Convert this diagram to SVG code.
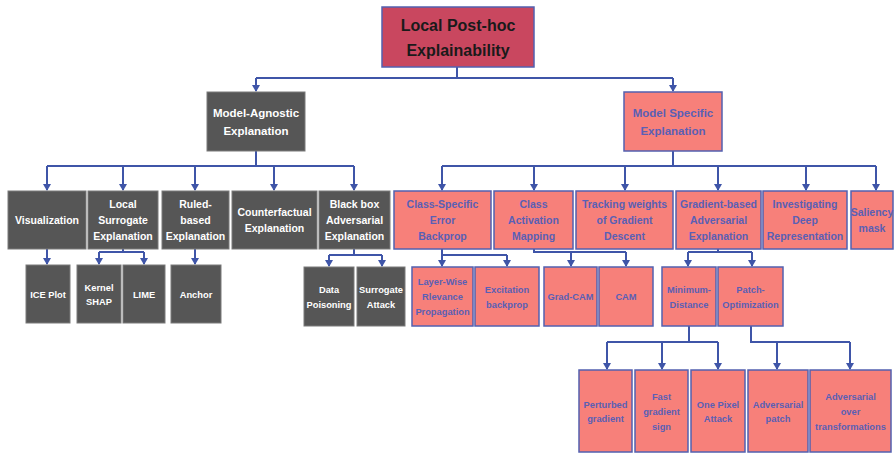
<svg xmlns="http://www.w3.org/2000/svg" width="894" height="453" viewBox="0 0 894 453">
<defs>
<style>
.g rect{fill:#565656;stroke:#7a7a7a;stroke-width:1}
.s rect{fill:#F7807A;stroke:#5360B0;stroke-width:1.5}
.r rect{fill:#C9475F;stroke:#5360B0;stroke-width:1.5}
text{font-family:"Liberation Sans",Arial,sans-serif;font-weight:bold;text-anchor:middle}
.g text{fill:#ffffff}
.s text{fill:#5a5fb5}
.r text{fill:#1a1a1a;font-size:16px}
.l2 text{font-size:10.5px}
.l3 text{font-size:9.3px}
.conn path{fill:none;stroke:#3F55A8;stroke-width:2}
</style>
<marker id="ah" markerUnits="userSpaceOnUse" markerWidth="8" markerHeight="8" viewBox="0 0 8 8" refX="4" refY="8" orient="auto-start-reverse">
<path d="M0,1 L8,1 L4,8 Z" fill="#3F55A8" transform="rotate(-90 4 4)"/>
</marker>
<marker id="a" markerUnits="userSpaceOnUse" markerWidth="8" markerHeight="8" viewBox="0 0 8 8" refX="4" refY="7">
<path d="M0,1 L8,1 L4,8 Z" fill="#3F55A8"/>
</marker>
</defs>
<rect width="894" height="453" fill="#ffffff"/>

<g class="conn">
<path d="M457,67 V78 M256,78 H673"/>
<path d="M256,78 V91" marker-end="url(#a)"/>
<path d="M673,78 V91" marker-end="url(#a)"/>
<path d="M256,151 V166 M47,166 H354"/>
<path d="M47,166 V190" marker-end="url(#a)"/>
<path d="M123,166 V190" marker-end="url(#a)"/>
<path d="M195,166 V190" marker-end="url(#a)"/>
<path d="M274,166 V190" marker-end="url(#a)"/>
<path d="M354,166 V190" marker-end="url(#a)"/>
<path d="M673,151 V166 M442,166 H876"/>
<path d="M442,166 V190" marker-end="url(#a)"/>
<path d="M534,166 V190" marker-end="url(#a)"/>
<path d="M625,166 V190" marker-end="url(#a)"/>
<path d="M718,166 V190" marker-end="url(#a)"/>
<path d="M806,166 V190" marker-end="url(#a)"/>
<path d="M876,166 V190" marker-end="url(#a)"/>
<path d="M47,249 V264" marker-end="url(#a)"/>
<path d="M123,249 V252 M99,252 H144"/>
<path d="M99,252 V264" marker-end="url(#a)"/>
<path d="M144,252 V264" marker-end="url(#a)"/>
<path d="M195,249 V264" marker-end="url(#a)"/>
<path d="M354,249 V255 M329,255 H382"/>
<path d="M329,255 V266" marker-end="url(#a)"/>
<path d="M382,255 V266" marker-end="url(#a)"/>
<path d="M442,249 V255 H507"/>
<path d="M442,255 V266" marker-end="url(#a)"/>
<path d="M507,255 V266" marker-end="url(#a)"/>
<path d="M534,249 V252 H626"/>
<path d="M571,252 V266" marker-end="url(#a)"/>
<path d="M626,252 V266" marker-end="url(#a)"/>
<path d="M718,249 V252 M688,252 H752"/>
<path d="M688,252 V266" marker-end="url(#a)"/>
<path d="M752,252 V266" marker-end="url(#a)"/>
<path d="M689,326 V342 M607,342 H718"/>
<path d="M607,342 V369" marker-end="url(#a)"/>
<path d="M662,342 V369" marker-end="url(#a)"/>
<path d="M718,342 V369" marker-end="url(#a)"/>
<path d="M751,326 V342 H850"/>
<path d="M777,342 V369" marker-end="url(#a)"/>
<path d="M850,342 V369" marker-end="url(#a)"/>
</g>

<g id="root" class="r">
<rect x="382" y="7" width="152" height="60"/>
<text x="458" y="31">Local Post-hoc</text>
<text x="458" y="56">Explainability</text>
</g>

<g id="model-agnostic" class="g">
<rect x="207" y="92" width="98" height="59"/>
<text x="256" y="117" font-size="11.5">Model-Agnostic</text>
<text x="256" y="135" font-size="11.5">Explanation</text>
</g>
<g id="model-specific" class="s">
<rect x="624" y="92" width="98" height="59"/>
<text x="673" y="117" font-size="11.5">Model Specific</text>
<text x="673" y="135" font-size="11.5">Explanation</text>
</g>

<g class="g l2">
<g id="visualization"><rect x="8" y="191" width="78" height="58"/>
<text x="47" y="224">Visualization</text></g>
<g id="local-surrogate"><rect x="88" y="191" width="70" height="58"/>
<text x="123" y="208">Local</text><text x="123" y="224">Surrogate</text><text x="123" y="240">Explanation</text></g>
<g id="ruled-based"><rect x="162" y="191" width="67" height="58"/>
<text x="195.5" y="208">Ruled-</text><text x="195.5" y="224">based</text><text x="195.5" y="240">Explanation</text></g>
<g id="counterfactual"><rect x="232" y="191" width="85" height="58"/>
<text x="274.5" y="216">Counterfactual</text><text x="274.5" y="232">Explanation</text></g>
<g id="black-box"><rect x="319" y="191" width="71" height="58"/>
<text x="354.5" y="208">Black box</text><text x="354.5" y="224">Adversarial</text><text x="354.5" y="240">Explanation</text></g>
</g>

<g class="s l2">
<g id="class-specific"><rect x="394" y="191" width="97" height="58"/>
<text x="442.5" y="208">Class-Specific</text><text x="442.5" y="224">Error</text><text x="442.5" y="240">Backprop</text></g>
<g id="cam-mapping"><rect x="494" y="191" width="79" height="58"/>
<text x="533.5" y="208">Class</text><text x="533.5" y="224">Activation</text><text x="533.5" y="240">Mapping</text></g>
<g id="tracking"><rect x="576" y="191" width="97" height="58"/>
<text x="624.5" y="208">Tracking weights</text><text x="624.5" y="224">of Gradient</text><text x="624.5" y="240">Descent</text></g>
<g id="gradient-based"><rect x="676" y="191" width="85" height="58"/>
<text x="718.5" y="208">Gradient-based</text><text x="718.5" y="224">Adversarial</text><text x="718.5" y="240">Explanation</text></g>
<g id="investigating"><rect x="763" y="191" width="84" height="58"/>
<text x="805" y="208">Investigating</text><text x="805" y="224">Deep</text><text x="805" y="240">Representation</text></g>
<g id="saliency"><rect x="851" y="191" width="42" height="58"/>
<text x="872" y="216">Saliency</text><text x="872" y="232">mask</text></g>
</g>

<g class="g l3">
<g id="ice-plot"><rect x="26" y="265" width="44" height="58"/>
<text x="48" y="298">ICE Plot</text></g>
<g id="kernel-shap"><rect x="77" y="265" width="44" height="58"/>
<text x="99" y="291">Kernel</text><text x="99" y="305">SHAP</text></g>
<g id="lime"><rect x="123" y="265" width="42" height="58"/>
<text x="144" y="298">LIME</text></g>
<g id="anchor"><rect x="171" y="265" width="50" height="58"/>
<text x="196" y="298">Anchor</text></g>
<g id="data-poisoning"><rect x="304" y="267" width="50" height="59"/>
<text x="329" y="293">Data</text><text x="329" y="308">Poisoning</text></g>
<g id="surrogate-attack"><rect x="357" y="267" width="48" height="59"/>
<text x="381" y="293">Surrogate</text><text x="381" y="308">Attack</text></g>
</g>

<g class="s l3">
<g id="lrp"><rect x="412" y="267" width="61" height="59"/>
<text x="442.5" y="285">Layer-Wise</text><text x="442.5" y="300">Rlevance</text><text x="442.5" y="315">Propagation</text></g>
<g id="excitation"><rect x="475" y="267" width="64" height="59"/>
<text x="507" y="293">Excitation</text><text x="507" y="308">backprop</text></g>
<g id="grad-cam"><rect x="544" y="267" width="53" height="59"/>
<text x="570.5" y="300">Grad-CAM</text></g>
<g id="cam"><rect x="599" y="267" width="54" height="59"/>
<text x="626" y="300">CAM</text></g>
<g id="minimum-distance"><rect x="662" y="267" width="54" height="59"/>
<text x="689" y="293">Minimum-</text><text x="689" y="308">Distance</text></g>
<g id="patch-optimization"><rect x="718" y="267" width="65" height="59"/>
<text x="750.5" y="293">Patch-</text><text x="750.5" y="308">Optimization</text></g>
<g id="perturbed"><rect x="579" y="370" width="53" height="82"/>
<text x="605.5" y="408">Perturbed</text><text x="605.5" y="422">gradient</text></g>
<g id="fast-gradient"><rect x="635" y="370" width="53" height="82"/>
<text x="661.5" y="400">Fast</text><text x="661.5" y="415">gradient</text><text x="661.5" y="430">sign</text></g>
<g id="one-pixel"><rect x="691" y="370" width="54" height="82"/>
<text x="718" y="408">One Pixel</text><text x="718" y="422">Attack</text></g>
<g id="adv-patch"><rect x="748" y="370" width="60" height="82"/>
<text x="778" y="408">Adversarial</text><text x="778" y="422">patch</text></g>
<g id="adv-transform"><rect x="810" y="370" width="81" height="82"/>
<text x="850.5" y="400">Adversarial</text><text x="850.5" y="415">over</text><text x="850.5" y="430">transformations</text></g>
</g>
</svg>
